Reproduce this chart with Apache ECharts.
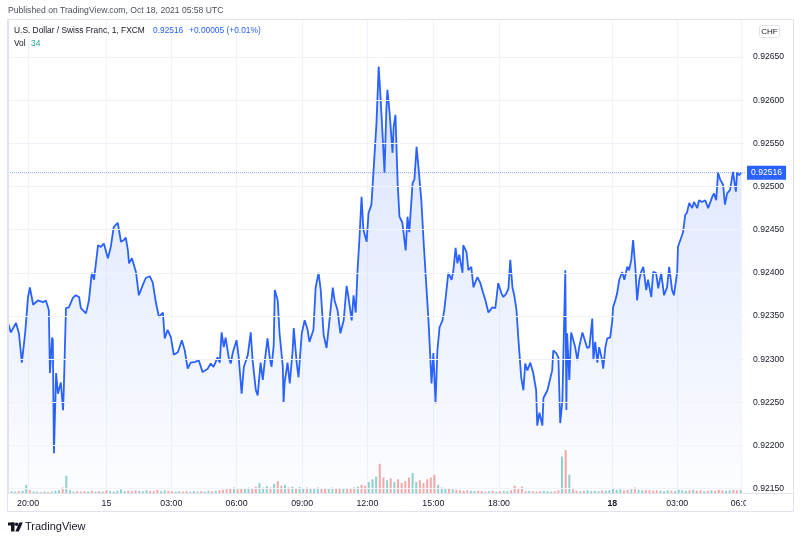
<!DOCTYPE html>
<html>
<head>
<meta charset="utf-8">
<title>USD/CHF 1m FXCM</title>
<script src="https://cdn.jsdelivr.net/npm/echarts@6/dist/echarts.min.js"></script>
<style>
html, body { margin: 0; padding: 0; background: #fff; }
#main { width: 800px; height: 538px; }
</style>
</head>
<body>
<div id="main"></div>
<script>
// U.S. Dollar / Swiss Franc, 1 min, FXCM
// time = trading minutes since the first bar on screen (the weekend is skipped)
var priceBars = [
  [0,0.92342],[8,0.92331],[22,0.92342],[30,0.92330],[38,0.92296],[47,0.92330],[55,0.92372],[60,0.92383],
  [69,0.92363],[82,0.92368],[96,0.92366],[104,0.92368],[112,0.92357],[115,0.92284],[121,0.92325],[123,0.92322],
  [126,0.92191],[132,0.92284],[137,0.92260],[145,0.92273],[151,0.92241],[153,0.92264],[159,0.92359],[167,0.92360],
  [178,0.92371],[186,0.92374],[195,0.92372],[200,0.92359],[214,0.92353],[222,0.92368],[230,0.92400],[236,0.92392],
  [247,0.92432],[255,0.92430],[263,0.92434],[274,0.92417],[282,0.92430],[290,0.92453],[301,0.92458],[310,0.92436],
  [318,0.92438],[323,0.92441],[329,0.92426],[332,0.92411],[340,0.92417],[351,0.92401],[359,0.92374],[370,0.92386],
  [378,0.92394],[389,0.92396],[397,0.92389],[406,0.92365],[414,0.92349],[425,0.92354],[430,0.92324],[438,0.92334],
  [447,0.92325],[455,0.92305],[466,0.92308],[477,0.92322],[485,0.92310],[493,0.92289],[501,0.92296],[515,0.92297],
  [523,0.92299],[534,0.92285],[548,0.92289],[556,0.92295],[564,0.92291],[575,0.92302],[581,0.92296],[586,0.92331],
  [592,0.92314],[597,0.92325],[606,0.92301],[611,0.92295],[617,0.92308],[627,0.92322],[633,0.92302],[641,0.92260],
  [647,0.92291],[658,0.92305],[666,0.92331],[671,0.92299],[680,0.92264],[685,0.92258],[693,0.92296],[699,0.92276],
  [704,0.92296],[712,0.92324],[718,0.92302],[723,0.92291],[729,0.92316],[732,0.92380],[740,0.92368],[745,0.92330],
  [754,0.92291],[756,0.92250],[759,0.92273],[767,0.92296],[773,0.92272],[781,0.92310],[784,0.92336],[792,0.92296],
  [797,0.92279],[806,0.92330],[814,0.92345],[822,0.92334],[827,0.92320],[838,0.92334],[844,0.92383],[852,0.92400],
  [858,0.92380],[866,0.92328],[874,0.92313],[882,0.92345],[891,0.92383],[896,0.92368],[904,0.92357],[912,0.92330],
  [921,0.92345],[929,0.92385],[934,0.92372],[943,0.92345],[948,0.92374],[954,0.92354],[959,0.92403],[964,0.92438],
  [970,0.92488],[975,0.92450],[984,0.92436],[989,0.92469],[997,0.92479],[1003,0.92519],[1011,0.92574],[1017,0.92639],
  [1022,0.92604],[1028,0.92557],[1033,0.92516],[1038,0.92589],[1041,0.92612],[1047,0.92585],[1055,0.92539],[1058,0.92569],
  [1063,0.92583],[1069,0.92504],[1074,0.92465],[1082,0.92458],[1091,0.92426],[1096,0.92465],[1101,0.92447],[1110,0.92504],
  [1115,0.92508],[1121,0.92546],[1126,0.92523],[1134,0.92484],[1140,0.92438],[1148,0.92383],[1154,0.92342],[1162,0.92272],
  [1167,0.92307],[1173,0.92249],[1178,0.92310],[1184,0.92337],[1192,0.92345],[1197,0.92357],[1203,0.92380],[1208,0.92400],
  [1217,0.92392],[1222,0.92403],[1228,0.92429],[1233,0.92411],[1238,0.92421],[1247,0.92400],[1249,0.92432],[1258,0.92424],
  [1263,0.92403],[1271,0.92407],[1277,0.92383],[1282,0.92389],[1288,0.92395],[1296,0.92388],[1304,0.92376],[1310,0.92368],
  [1318,0.92354],[1329,0.92360],[1337,0.92359],[1345,0.92388],[1354,0.92376],[1359,0.92372],[1367,0.92376],[1373,0.92382],
  [1378,0.92415],[1384,0.92383],[1389,0.92374],[1395,0.92357],[1400,0.92325],[1408,0.92279],[1414,0.92264],[1419,0.92295],
  [1425,0.92287],[1433,0.92296],[1441,0.92284],[1449,0.92264],[1452,0.92223],[1458,0.92238],[1466,0.92223],[1469,0.92255],
  [1480,0.92264],[1485,0.92273],[1493,0.92287],[1496,0.92310],[1504,0.92307],[1510,0.92302],[1515,0.92226],[1521,0.92252],
  [1523,0.92291],[1529,0.92403],[1532,0.92241],[1534,0.92330],[1540,0.92276],[1545,0.92331],[1551,0.92322],[1556,0.92314],
  [1562,0.92299],[1567,0.92314],[1576,0.92331],[1581,0.92330],[1589,0.92313],[1595,0.92314],[1603,0.92347],[1606,0.92299],
  [1611,0.92320],[1617,0.92296],[1622,0.92314],[1630,0.92299],[1633,0.92289],[1639,0.92314],[1644,0.92324],[1652,0.92325],
  [1658,0.92345],[1660,0.92360],[1666,0.92368],[1671,0.92376],[1677,0.92392],[1685,0.92401],[1691,0.92392],[1699,0.92407],
  [1704,0.92403],[1710,0.92415],[1715,0.92438],[1721,0.92407],[1726,0.92368],[1732,0.92392],[1737,0.92401],[1743,0.92407],
  [1751,0.92380],[1756,0.92392],[1765,0.92372],[1770,0.92401],[1778,0.92400],[1784,0.92382],[1792,0.92400],[1800,0.92374],
  [1808,0.92383],[1814,0.92407],[1822,0.92380],[1827,0.92374],[1836,0.92401],[1838,0.92430],[1847,0.92441],[1852,0.92447],
  [1858,0.92467],[1863,0.92470],[1869,0.92481],[1877,0.92475],[1882,0.92482],[1891,0.92475],[1896,0.92484],[1904,0.92482],
  [1913,0.92484],[1921,0.92475],[1932,0.92488],[1937,0.92492],[1943,0.92484],[1948,0.92516],[1954,0.92508],[1962,0.92502],
  [1967,0.92479],[1973,0.92492],[1981,0.92496],[1989,0.92517],[1992,0.92508],[1997,0.92494],[2000,0.92516],[2006,0.92513],
  [2011,0.92516]
];

// volume, one value every volStep minutes
var volStep = 10;
var volume = [
  15,20,15,20,25,90,30,15,15,10,
  15,10,15,25,30,60,190,30,15,20,
  15,20,15,25,15,20,15,30,20,15,
  25,40,20,25,20,30,25,20,30,25,
  20,35,20,30,25,20,15,20,15,20,
  15,20,15,20,15,25,20,25,30,35,
  40,45,60,40,55,50,60,45,70,110,
  60,75,60,100,130,80,90,60,70,55,
  65,50,60,55,50,60,45,55,50,60,
  45,50,55,45,50,60,70,90,80,120,
  150,180,320,170,140,160,120,150,110,130,
  170,220,120,140,110,150,170,200,90,60,
  55,45,40,35,30,25,30,25,20,25,
  20,15,20,25,15,20,25,20,30,80,
  40,70,20,25,20,15,20,25,20,15,
  20,30,400,470,200,40,25,20,25,30,
  20,25,20,30,25,30,45,35,40,30,
  35,40,60,35,30,35,30,25,30,25,
  20,30,25,20,35,30,25,30,35,25,
  30,20,25,30,25,35,30,25,30,35,
  30,34
];

// time axis: range and labels
var xMin = 0, xMax = 2022;
var tickTime = [55, 270, 448, 627, 807, 986, 1167, 1347, 1658, 1836, 2013];
var tickText = ['20:00', '15', '03:00', '06:00', '09:00', '12:00', '15:00', '18:00', '18', '03:00', '06:00'];
var tickBold = [false, false, false, false, false, false, false, false, true, false, false];

// price axis labels
var priceTicks = [0.9215, 0.9220, 0.9225, 0.9230, 0.9235, 0.9240, 0.9245, 0.9250, 0.9255, 0.9260, 0.9265];

var FONT = '"Liberation Sans", Arial, sans-serif';
var lineColor = '#2962ff';
var upColor = 'rgba(38,166,154,0.5)';
var downColor = 'rgba(239,83,80,0.5)';
var textColor = '#131722';
var borderColor = '#e0e3eb';
var gridColor = '#f0f3fa';

var lastPrice = priceBars[priceBars.length - 1][1];

var volData = volume.map(function (v, i) {
  var t = i * volStep;
  var prev = priceBars[0], next = priceBars[priceBars.length - 1];
  for (var k = 0; k < priceBars.length; k++) {
    if (priceBars[k][0] <= t) { prev = priceBars[k]; }
    else { next = priceBars[k]; break; }
  }
  return { value: [t, v], itemStyle: { color: next[1] >= prev[1] ? upColor : downColor } };
});

var chart = echarts.init(document.getElementById('main'));

var option = {
  animation: false,
  backgroundColor: '#fff',
  grid: { left: 8, right: 55, top: 19, bottom: 45, containLabel: false },
  xAxis: {
    type: 'value',
    min: xMin,
    max: xMax,
    z: 1,
    axisLine: { show: true, lineStyle: { color: borderColor } },
    axisTick: { show: false, customValues: tickTime },
    splitLine: { show: true, lineStyle: { color: gridColor } },
    axisLabel: {
      customValues: tickTime,
      margin: 6,
      color: textColor,
      fontSize: 8.8,
      fontFamily: FONT,
      formatter: function (v) {
        var i = tickTime.indexOf(v);
        if (i < 0) return '';
        return tickBold[i] ? '{b|' + tickText[i] + '}' : tickText[i];
      },
      rich: { b: { fontWeight: 'bold', fontSize: 8.8, fontFamily: FONT, color: textColor } }
    }
  },
  yAxis: [
    {
      type: 'value',
      position: 'right',
      min: 0.92145,
      max: 0.92694,
      z: 10,
      axisLine: { show: true, lineStyle: { color: borderColor } },
      axisTick: { show: false, customValues: priceTicks },
      splitLine: { show: true, lineStyle: { color: gridColor } },
      axisLabel: {
        customValues: priceTicks,
        margin: 8,
        color: textColor,
        fontSize: 8.6,
        fontFamily: FONT,
        formatter: function (v) { return v.toFixed(5); }
      }
    },
    {
      type: 'value',
      min: 0,
      max: 5200,
      show: false,
      splitLine: { show: false }
    }
  ],
  series: [
    {
      type: 'bar',
      yAxisIndex: 1,
      barWidth: 2,
      z: 2,
      data: volData
    },
    {
      type: 'line',
      z: 3,
      data: priceBars,
      symbol: 'none',
      lineStyle: { color: lineColor, width: 1.8 },
      areaStyle: {
        color: new echarts.graphic.LinearGradient(0, 0, 0, 1, [
          { offset: 0, color: 'rgba(41,98,255,0.26)' },
          { offset: 1, color: 'rgba(41,98,255,0.02)' }
        ])
      }
    },
    {
      // last price line across the pane, with its price tag on the scale
      type: 'line',
      z: 4,
      silent: true,
      symbol: 'none',
      data: [[xMin, lastPrice], [xMax, lastPrice]],
      lineStyle: { color: 'rgba(41,98,255,0.55)', type: 'dotted', width: 1 },
      endLabel: {
        show: true,
        distance: 2,
        formatter: function () { return lastPrice.toFixed(5); },
        color: '#fff',
        backgroundColor: lineColor,
        padding: [3, 4, 2, 4],
        fontSize: 8.6,
        fontFamily: FONT
      }
    }
  ],
  graphic: [
    // pane frame
    { type: 'line', z: 6, shape: { x1: 7.5, y1: 19.5, x2: 793.5, y2: 19.5 }, style: { stroke: borderColor, lineWidth: 1 } },
    { type: 'line', z: 6, shape: { x1: 7.5, y1: 19.5, x2: 7.5, y2: 511.5 }, style: { stroke: borderColor, lineWidth: 1 } },
    { type: 'line', z: 6, shape: { x1: 7.5, y1: 511.5, x2: 793.5, y2: 511.5 }, style: { stroke: borderColor, lineWidth: 1 } },
    { type: 'line', z: 6, shape: { x1: 793.5, y1: 19.5, x2: 793.5, y2: 511.5 }, style: { stroke: borderColor, lineWidth: 1 } },
    // time scale corner under the price scale
    { type: 'rect', z: 5, shape: { x: 746, y: 494, width: 47, height: 17 }, style: { fill: '#fff' } },
    { type: 'line', z: 6, shape: { x1: 745, y1: 493.5, x2: 793.5, y2: 493.5 }, style: { stroke: borderColor, lineWidth: 1 } },
    // currency badge
    { type: 'rect', z: 6, shape: { x: 759.5, y: 25.5, width: 20, height: 12, r: 2 }, style: { fill: '#fff', stroke: borderColor, lineWidth: 1 } },
    { type: 'text', z: 7, x: 769.5, y: 31.5, style: { text: 'CHF', fill: textColor, font: '8px ' + FONT, textAlign: 'center', textVerticalAlign: 'middle' } },
    // headings
    { type: 'text', z: 7, x: 8, y: 11, style: { text: 'Published on TradingView.com, Oct 18, 2021 05:58 UTC', fill: '#4a4f5a', font: '8.6px ' + FONT, textVerticalAlign: 'middle' } },
    { type: 'text', z: 7, x: 14, y: 31, style: { text: 'U.S. Dollar / Swiss Franc, 1, FXCM', fill: textColor, font: '8.4px ' + FONT, textVerticalAlign: 'middle' } },
    { type: 'text', z: 7, x: 153, y: 31, style: { text: lastPrice.toFixed(5), fill: lineColor, font: '8.4px ' + FONT, textVerticalAlign: 'middle' } },
    { type: 'text', z: 7, x: 189, y: 31, style: { text: '+0.00005 (+0.01%)', fill: lineColor, font: '8.4px ' + FONT, textVerticalAlign: 'middle' } },
    { type: 'text', z: 7, x: 14, y: 44, style: { text: 'Vol', fill: textColor, font: '8.4px ' + FONT, textVerticalAlign: 'middle' } },
    { type: 'text', z: 7, x: 31, y: 44, style: { text: String(volume[volume.length - 1]), fill: '#26a69a', font: '8.4px ' + FONT, textVerticalAlign: 'middle' } },
    // TradingView mark
    { type: 'rect', z: 7, shape: { x: 8, y: 522.5, width: 6.5, height: 3 }, style: { fill: textColor } },
    { type: 'rect', z: 7, shape: { x: 11, y: 522.5, width: 3.5, height: 9 }, style: { fill: textColor } },
    { type: 'circle', z: 7, shape: { cx: 16.6, cy: 524.2, r: 1.7 }, style: { fill: textColor } },
    { type: 'polygon', z: 7, shape: { points: [[19.2, 522.5], [22.8, 522.5], [18.8, 531.5], [15.4, 531.5]] }, style: { fill: textColor } },
    { type: 'text', z: 7, x: 25, y: 527, style: { text: 'TradingView', fill: textColor, font: '11px ' + FONT, textVerticalAlign: 'middle' } }
  ]
};

chart.setOption(option);
</script>
</body>
</html>
